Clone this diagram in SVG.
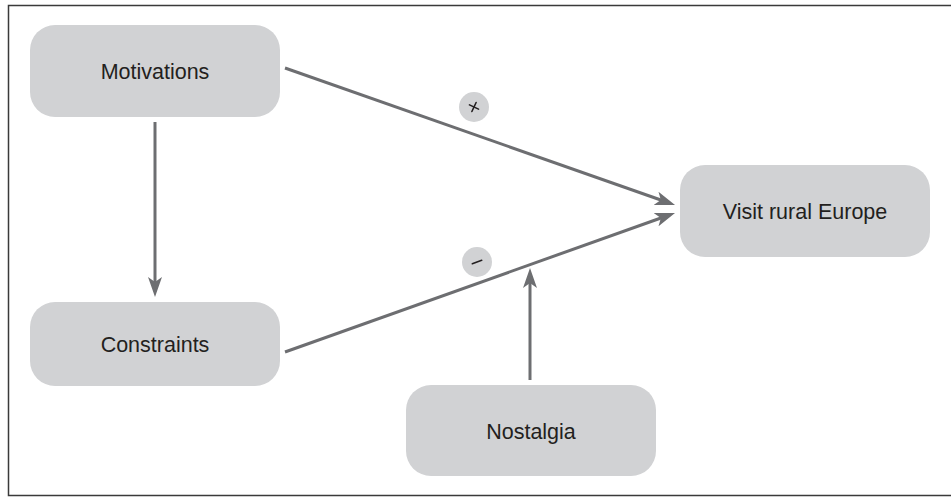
<svg xmlns="http://www.w3.org/2000/svg" width="951" height="497" viewBox="0 0 951 497">
  <style>
    .box { fill: #d1d2d4; }
    .label { font-family: "Liberation Sans", Arial, Helvetica, sans-serif; font-size: 21.5px; fill: #231f20; text-anchor: middle; }
    .edge { stroke: #6d6e71; stroke-width: 3; fill: none; }
    .badge { fill: #d1d2d4; }
    .sign { stroke: #231f20; stroke-width: 1.6; stroke-linecap: round; fill: none; }
  </style>
  <defs>
    <marker id="arrow" markerUnits="userSpaceOnUse" viewBox="0 0 20 14" markerWidth="20" markerHeight="14" refX="8" refY="7" orient="auto">
      <path d="M0,0 L20,7 L0,14 L5,7 Z" fill="#6d6e71"/>
    </marker>
  </defs>

  <rect width="951" height="497" fill="#ffffff"/>
  <!-- frame (open on the right) -->
  <path d="M951,5.5 H8.5 V495.5 H951" fill="none" stroke="#3a3a3a" stroke-width="1.5"/>

  <g id="connectors">
    <line class="edge" x1="285" y1="68" x2="663.7" y2="201" marker-end="url(#arrow)"/>
    <line class="edge" x1="285" y1="352" x2="663.7" y2="217" marker-end="url(#arrow)"/>
    <line class="edge" x1="155" y1="122" x2="155" y2="285" marker-end="url(#arrow)"/>
    <line class="edge" x1="530" y1="380" x2="530" y2="280" marker-end="url(#arrow)"/>
    <g id="badge-plus">
      <circle class="badge" cx="474" cy="107" r="15"/>
      <g class="sign" transform="translate(474 107) rotate(25)">
        <line x1="-5" y1="0" x2="5" y2="0"/>
        <line x1="0" y1="-5" x2="0" y2="5"/>
      </g>
    </g>
    <g id="badge-minus">
      <circle class="badge" cx="477" cy="262" r="15"/>
      <g class="sign" transform="translate(477 262) rotate(-20)">
        <line x1="-5" y1="0" x2="5" y2="0"/>
      </g>
    </g>
  </g>

  <g id="motivations">
    <rect class="box" x="30" y="25" width="250" height="92" rx="25"/>
    <text class="label" x="155" y="79">Motivations</text>
  </g>
  <g id="constraints">
    <rect class="box" x="30" y="302" width="250" height="84" rx="25"/>
    <text class="label" x="155" y="352">Constraints</text>
  </g>
  <g id="visit">
    <rect class="box" x="680" y="165" width="250" height="92" rx="25"/>
    <text class="label" x="805" y="219">Visit rural Europe</text>
  </g>
  <g id="nostalgia">
    <rect class="box" x="406" y="385" width="250" height="91" rx="25"/>
    <text class="label" x="531" y="438.5">Nostalgia</text>
  </g>
</svg>
